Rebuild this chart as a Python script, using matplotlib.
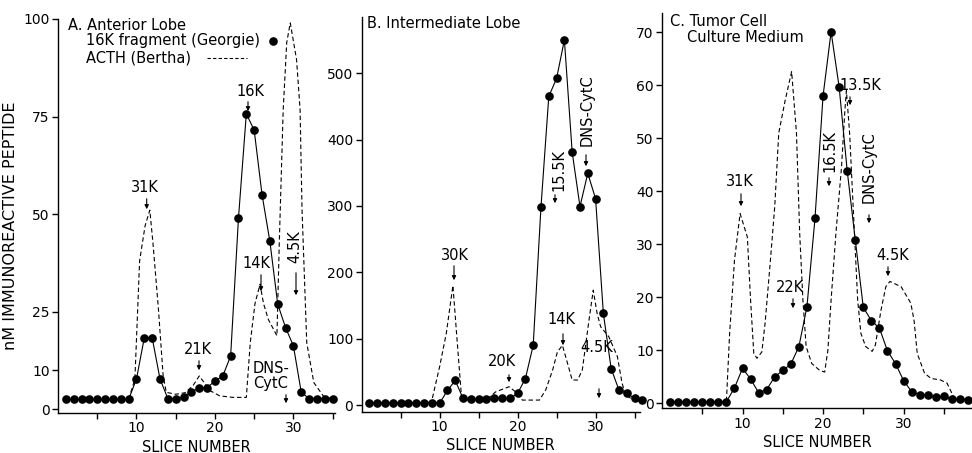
import matplotlib
matplotlib.use("Agg")
import matplotlib.pyplot as plt
from matplotlib.patches import FancyArrowPatch
from matplotlib.lines import Line2D

plt.rcParams['font.family'] = ['DejaVu Sans']

# ---------------- data ----------------
A_slices = list(range(1, 36))
A_georgie = [2.5, 2.5, 2.5, 2.5, 2.5, 2.5, 2.5, 2.5, 2.5,
             7.7, 18.3, 18.3, 7.7, 2.7, 2.7, 3.0, 4.4, 5.5, 5.5, 7.2, 8.5, 13.6,
             49.0, 75.7, 71.5, 55.0, 43.0, 26.9, 20.9, 16.2, 4.3, 2.7, 2.7, 2.7, 2.7]
A_acth_x = [9.0, 9.8, 10.4, 11.1, 11.7, 12.1, 12.8, 13.4, 13.8, 15.0, 16.2, 17.2, 18.0,
            19.4, 20.6, 22.3, 24.0, 24.5, 25.1, 25.75, 26.2, 26.8, 27.9, 28.2, 28.7,
            29.15, 29.6, 30.4, 30.85, 31.1, 31.7, 32.6, 33.8, 35.0]
A_acth_y = [2.5, 7.7, 38.0, 47.0, 51.0, 42.6, 25.6, 8.5, 4.3, 3.8, 4.2, 6.0, 8.5,
            4.7, 3.4, 3.0, 3.0, 17.0, 27.0, 32.0, 27.0, 23.0, 18.8, 42.7, 76.8,
            94.0, 99.0, 89.6, 76.8, 51.0, 17.0, 6.8, 3.4, 2.5]

B_slices = list(range(1, 37))
B_georgie = [3, 3, 3, 3, 3, 3, 3, 3, 3, 3,
             22, 37, 10, 9, 9, 9, 10, 10, 10, 17.6, 40, 90, 299, 465, 492, 550,
             381, 299, 349, 311, 138, 55, 22.6, 17.6, 10, 8]
B_acth_x = [8.5, 9.0, 10.0, 10.85, 11.7, 12.3, 12.8, 13.5, 16.0, 17.2, 18.9, 20.0,
            20.6, 22.8, 23.6, 24.5, 25.1, 25.75, 26.4, 27.0, 27.7, 28.3, 29.1, 29.7,
            30.2, 30.65, 31.7, 32.8, 33.4, 33.8, 34.5]
B_acth_y = [3, 7, 58, 108, 180, 88, 12.5, 8, 8, 20, 27.6, 17.6,
            7.5, 7.5, 22.6, 53, 80, 90, 63, 37.7, 37.7, 53, 123, 173,
            138, 118, 103, 73, 33, 17.6, 10]

C_slices = list(range(1, 39))
C_georgie = [0.3, 0.3, 0.3, 0.3, 0.3, 0.3, 0.3, 0.3,
             2.9, 6.6, 4.6, 2.0, 2.6, 5.0, 6.2, 7.4, 10.7, 18.2, 34.9, 58.0, 70.1,
             59.7, 43.9, 30.9, 18.1, 15.6, 14.2, 9.9, 7.5, 4.3, 2.2, 1.6, 1.6, 1.2,
             1.3, 0.8, 0.8, 0.7]
C_acth_x = [8.0, 8.4, 9.0, 9.7, 10.6, 11.0, 11.4, 11.8, 12.4, 12.8, 13.4, 14.0, 14.5,
            15.3, 16.1, 16.7, 17.1, 17.5, 17.9, 18.6, 19.6, 20.2, 20.6, 21.0, 21.6,
            22.3, 22.7, 22.9, 23.3, 23.9, 24.3, 24.7, 25.3, 26.1, 26.5, 27.2, 27.8,
            28.3, 29.7, 30.9, 31.3, 31.7, 32.6, 33.4, 34.6, 35.4, 36.0, 36.5]
C_acth_y = [0.4, 13.2, 27.0, 35.8, 31.4, 19.5, 9.4, 8.5, 9.7, 15.1, 25.8, 37.1, 51.0,
            57.2, 62.6, 51.0, 32.1, 19.5, 10.7, 7.5, 6.2, 5.9, 10.0, 19.5, 32.1,
            44.7, 55.0, 59.0, 51.0, 32.1, 19.5, 13.2, 10.7, 9.8, 11.0, 17.6, 22.0,
            23.0, 22.0, 18.9, 15.7, 9.4, 5.7, 4.7, 4.4, 3.8, 1.9, 0.6]

A_yticks = [0, 10, 25, 50, 75, 100]
B_yticks = [0, 100, 200, 300, 400, 500]
C_yticks = [0, 10, 20, 30, 40, 50, 60, 70]
x_major = [10, 20, 30]
x_minor = [5, 15, 25, 35]

# ---------------- figure ----------------
W, H = 972, 453
fig = plt.figure(figsize=(W / 100, H / 100), dpi=100)


def P(x, y):
    return (x / W, 1 - y / H)


def make_ax(left, right, top, bottom, xlim, ylim, yticks):
    ax = fig.add_axes([left / W, 1 - bottom / H, (right - left) / W, (bottom - top) / H])
    ax.set_xlim(*xlim)
    ax.set_ylim(*ylim)
    for s in ['top', 'right']:
        ax.spines[s].set_visible(False)
    for s in ['left', 'bottom']:
        ax.spines[s].set_linewidth(1.0)
    ax.set_xticks(x_major)
    ax.set_xticks(x_minor, minor=True)
    ax.set_yticks(yticks)
    ax.tick_params(which='both', direction='out', length=4, width=1.0, labelsize=10, pad=2)
    ax.set_facecolor('none')
    return ax


axA = make_ax(58, 335, 19, 413, (0, 35.3), (-1, 100), A_yticks)
axB = make_ax(361.7, 640, 16.7, 411.7, (0, 35.7), (-10, 585), B_yticks)
axC = make_ax(662, 972, 13.3, 408.3, (0, 38.5), (-0.94, 73.6), C_yticks)

for ax, xs, ys, ax_, ay_ in [(axA, A_slices, A_georgie, A_acth_x, A_acth_y),
                             (axB, B_slices, B_georgie, B_acth_x, B_acth_y),
                             (axC, C_slices, C_georgie, C_acth_x, C_acth_y)]:
    ax.plot(ax_, ay_, color='black', lw=0.8, ls=(0, (4, 2.5)), clip_on=False)
    ax.plot(xs, ys, color='black', lw=0.8, marker='o', ms=5.2, clip_on=False)
    ax.set_xlabel('SLICE NUMBER', fontsize=10.5, labelpad=3)

fig.text(*P(11, 226), 'nM IMMUNOREACTIVE PEPTIDE', rotation=90, ha='center', va='center',
         fontsize=11.5)

FS = 10.5


def label(x, y, s, rot=0, ha='center'):
    fig.text(*P(x, y), s, ha=ha, va='center', fontsize=FS, rotation=rot)


def arrow(x, y0, y1):
    fig.add_artist(FancyArrowPatch(P(x, y0), P(x, y1), transform=fig.transFigure,
                                   arrowstyle='-|>', mutation_scale=6, lw=0.8, color='black'))


# Panel A texts
label(68, 25, 'A. Anterior Lobe', ha='left')
label(86, 41, '16K fragment (Georgie)', ha='left')
label(86, 58, 'ACTH (Bertha)', ha='left')
fig.add_artist(Line2D([P(272.7, 41)[0]], [P(272.7, 41)[1]], marker='o', ms=5.2, color='black',
                      transform=fig.transFigure))
fig.add_artist(Line2D([207 / W, 247 / W], [P(0, 58)[1]] * 2, ls=(0, (3, 2)), lw=0.8,
                      color='black', transform=fig.transFigure))
label(145, 187, '31K'); arrow(146.7, 196, 212)
label(198, 349, '21K'); arrow(199, 358, 373)
label(250, 91, '16K'); arrow(248, 99, 114)
label(256, 263, '14K'); arrow(261, 272, 294)
label(295, 247, '4.5K', rot=90); arrow(296, 270, 298)
fig.text(*P(271, 376), 'DNS-\nCytC', ha='center', va='center', fontsize=FS, linespacing=1.0)
arrow(286, 392, 406)

# Panel B texts
label(367, 24, 'B. Intermediate Lobe', ha='left')
label(455, 255, '30K'); arrow(454, 263, 283)
label(502, 362, '20K'); arrow(509, 372, 385)
label(561, 320, '14K'); arrow(563, 331, 348)
label(597, 348, '4.5K'); arrow(599, 386, 401)
label(559, 170, '15.5K', rot=90); arrow(555, 192, 206)
label(587, 110, 'DNS-CytC', rot=90); arrow(586, 152, 169)

# Panel C texts
label(670, 21, 'C. Tumor Cell', ha='left')
label(687, 37, 'Culture Medium', ha='left')
label(740, 182, '31K'); arrow(741, 191, 209)
label(790, 287, '22K'); arrow(793, 296, 311)
label(830, 151, '16.5K', rot=90); arrow(829, 175, 189)
label(860, 86, '13.5K'); arrow(850, 94, 108)
label(869, 167, 'DNS-CytC', rot=90); arrow(869, 212, 226)
label(893, 256, '4.5K'); arrow(888, 264, 279)

fig.savefig('out.png', dpi=100)
